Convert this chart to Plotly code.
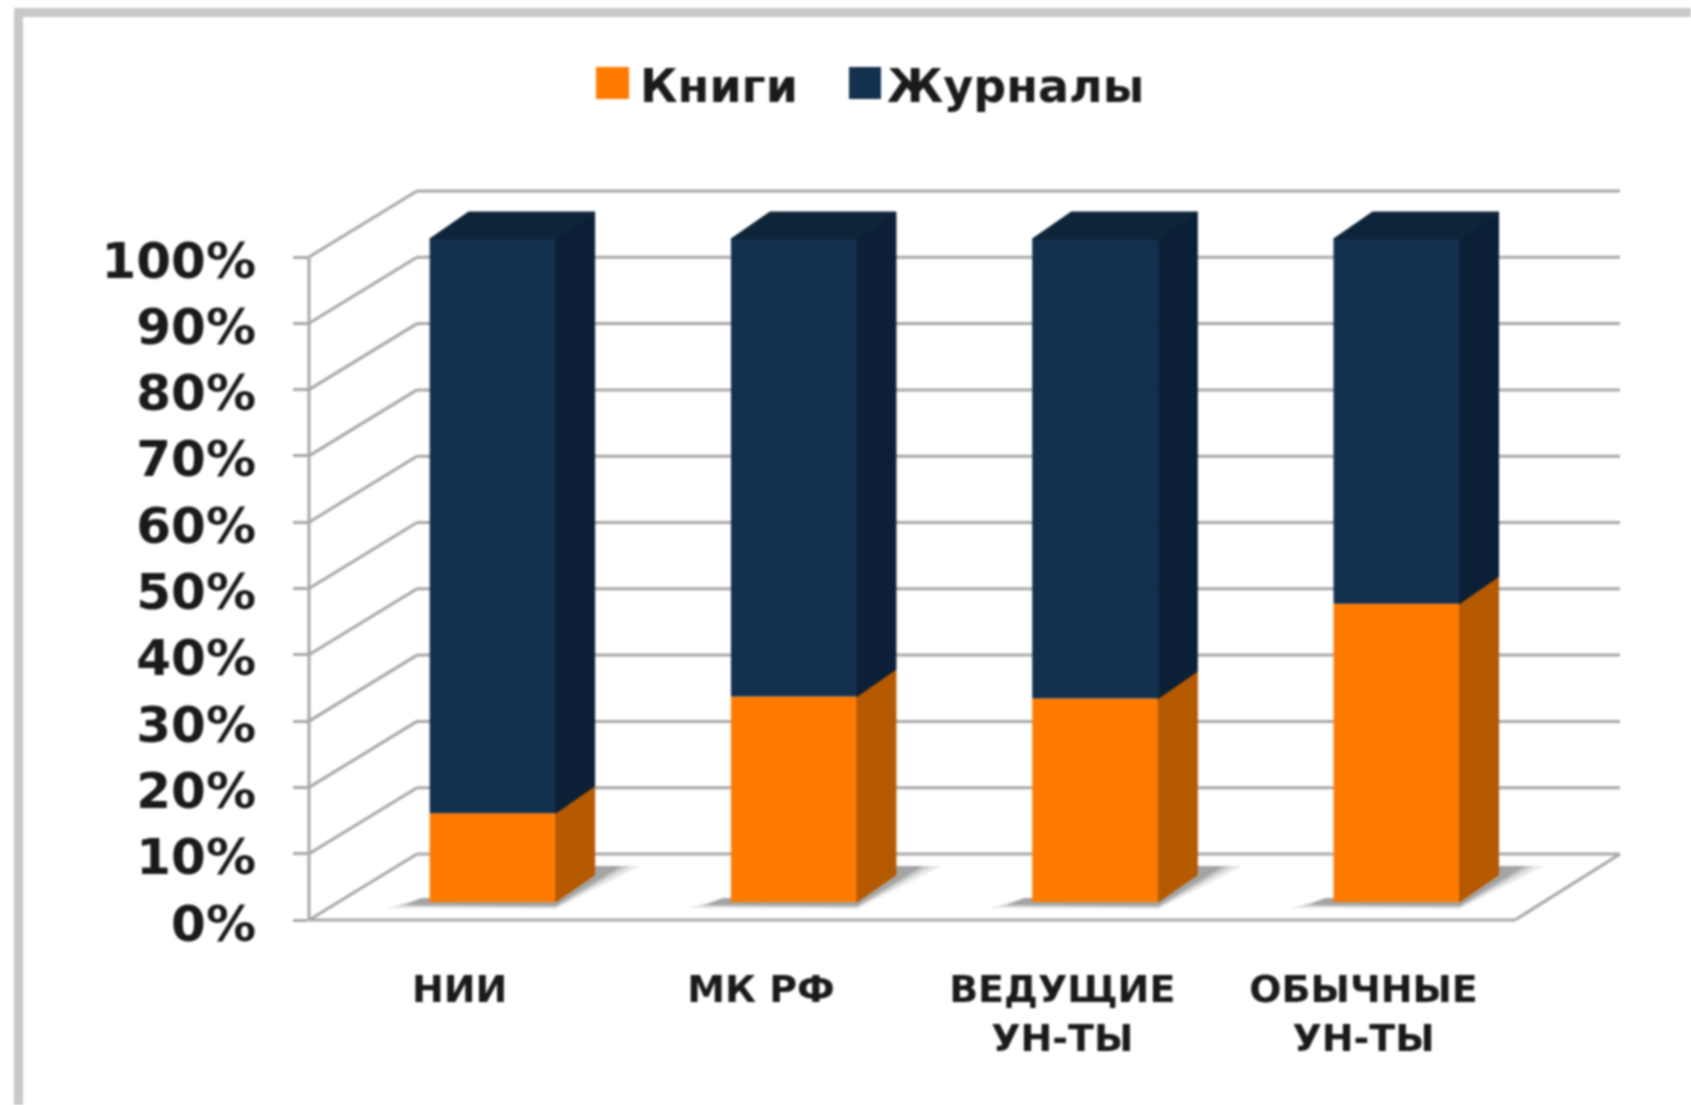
import plotly.graph_objects as go

# --- data ---
categories = ["НИИ", "МК РФ", "ВЕДУЩИЕ<br>УН-ТЫ", "ОБЫЧНЫЕ<br>УН-ТЫ"]
books = [13.4, 31.0, 30.7, 45.0]
journals = [86.6, 69.0, 69.3, 55.0]
y_ticks = [0, 10, 20, 30, 40, 50, 60, 70, 80, 90, 100]
y_labels = ["0%", "10%", "20%", "30%", "40%", "50%", "60%", "70%", "80%", "90%", "100%"]

W, H = 1691, 1105
L, R, T, B = 309, 1620, 190, 920      # plot area in page px
PX_X = 301.3                          # px per category
PX_Y = 6.63                           # px per percent
XMIN = -0.5
ORANGE, ORANGE_S = "#ff7b00", "#b55a00"
NAVY, NAVY_S, NAVY_T = "#14304f", "#0b2036", "#0d2439"
GRID = "#a8a8a8"
FONT = "DejaVu Sans"
INK = "#1a1a1a"

ux = lambda px: px / PX_X
uy = lambda px: px / PX_Y
BAR_W = ux(126)
BAR_X = ux(33)       # bar front plane offset
BAR_Y = uy(18)
SIDE_X, SIDE_Y = ux(39), uy(27)
positions = list(range(len(categories)))
bar_centres = [p + BAR_X for p in positions]

fig = go.Figure()
fig.add_bar(name="Книги", x=bar_centres, y=books, base=[BAR_Y] * 4, width=BAR_W,
            marker=dict(color=ORANGE, line_width=0), hoverinfo="skip", legend="legend")
fig.add_bar(name="Журналы", x=bar_centres, y=journals,
            base=[BAR_Y + b for b in books], width=BAR_W,
            marker=dict(color=NAVY, line_width=0), hoverinfo="skip", legend="legend2")


def face(xs, ys, color):
    fig.add_scatter(x=xs, y=ys, mode="lines", fill="toself", fillcolor=color,
                    line=dict(width=1, color=color), showlegend=False, hoverinfo="skip")


for c, b, j in zip(bar_centres, books, journals):
    r = c + BAR_W / 2
    l = c - BAR_W / 2
    y0, y1, y2 = BAR_Y, BAR_Y + b, BAR_Y + b + j
    face([r, r + SIDE_X, r + SIDE_X, r, r], [y0, y0 + SIDE_Y, y1 + SIDE_Y, y1, y0], ORANGE_S)
    face([r, r + SIDE_X, r + SIDE_X, r, r], [y1, y1 + SIDE_Y, y2 + SIDE_Y, y2, y1], NAVY_S)
    face([l, l + SIDE_X, r + SIDE_X, r, l], [y2, y2 + SIDE_Y, y2 + SIDE_Y, y2, y2], NAVY_T)

# --- page furniture, in paper fractions ---
px = lambda v: (v - L) / (R - L)
py = lambda v: (B - v) / (B - T)
vx = lambda u: px(L + (u - XMIN) * PX_X)
vy = lambda p: py(B - p * PX_Y)
shapes = []


def line(x0, y0, x1, y1):
    shapes.append(dict(type="line", xref="paper", yref="paper", x0=x0, y0=y0, x1=x1, y1=y1,
                       layer="below", line=dict(color=GRID, width=3)))


def rect(x0, y0, x1, y1, color, layer="above"):
    shapes.append(dict(type="rect", xref="paper", yref="paper", x0=px(x0), x1=px(x1), y0=py(y0), y1=py(y1),
                       fillcolor=color, line_width=0, layer=layer))


WALL_DX, WALL_DY = 108, 66
for t in y_ticks:
    line(px(L), vy(t), px(L + WALL_DX), py(B - t * PX_Y - WALL_DY))
    line(px(L + WALL_DX), py(B - t * PX_Y - WALL_DY), px(R), py(B - t * PX_Y - WALL_DY))
line(px(L), vy(0), px(L), vy(100))
line(px(L), vy(0), px(1515), vy(0))
line(px(1515), vy(0), px(R), py(B - WALL_DY))

# floor shadows of the bars
SX, SY = R - L, B - T
for c in bar_centres:
    l = vx(c - BAR_W / 2)
    r = vx(c + BAR_W / 2)
    base = vy(BAR_Y)
    for grow, op in ((0, 0.5), (8, 0.3), (18, 0.18)):
        g = grow / SX
        path = (f"M {l - (24 + grow) / SX} {base - (3 + grow / 6) / SY} L {r} {base - (4 + grow / 6) / SY} "
                f"L {r + (66 + grow) / SX} {base + 36 / SY} L {r + (28 - grow) / SX} {base + 36 / SY} "
                f"L {r} {base + 6 / SY} L {l - 8 / SX} {base + 4 / SY} Z")
        shapes.append(dict(type="path", xref="paper", yref="paper", path=path,
                           fillcolor="#808080", opacity=op, line_width=0, layer="below"))

# outer frame
rect(14, 8, W, 17, "#c8c8c8")
rect(14, 8, 23, H, "#c8c8c8")
# legend swatches
rect(596, 67, 629, 99, ORANGE)
rect(849, 67, 881, 99, NAVY)

legend_style = dict(orientation="h", xanchor="left", yanchor="top",
                    font=dict(family=FONT, size=46, color=INK, weight="bold"),
                    itemwidth=30, bgcolor="rgba(0,0,0,0)", borderwidth=0,
                    itemclick=False, itemdoubleclick=False)

fig.update_layout(
    width=W, height=H,
    margin=dict(l=L, r=W - R, t=T, b=H - B, pad=0),
    paper_bgcolor="white", plot_bgcolor="rgba(0,0,0,0)",
    barmode="overlay", shapes=shapes,
    font=dict(family=FONT, color=INK),
    legend=dict(x=px(600), y=py(48), **legend_style),
    legend2=dict(x=px(847), y=py(48), **legend_style),
    xaxis=dict(range=[XMIN, XMIN + (R - L) / PX_X], tickmode="array", tickvals=positions,
               ticktext=categories, showgrid=False, zeroline=False, showline=False,
               ticks="", ticklabelstandoff=43, tickangle=0,
               tickfont=dict(family=FONT, size=38, color=INK, weight="bold")),
    yaxis=dict(range=[0, (B - T) / PX_Y], tickmode="array", tickvals=y_ticks,
               ticktext=y_labels, showgrid=False, zeroline=False, showline=False,
               ticks="outside", ticklen=15, tickwidth=3, tickcolor=GRID,
               ticklabelstandoff=27, ticklabelshift=3,
               tickfont=dict(family=FONT, size=50, color=INK, weight="bold")),
)

fig.write_html("out.html", include_plotlyjs=True, config=dict(displayModeBar=False),
               post_script="document.body.style.margin='0';document.body.style.overflow='hidden';"
                           "document.querySelector('.plot-container').style.filter='blur(1.2px)';")
